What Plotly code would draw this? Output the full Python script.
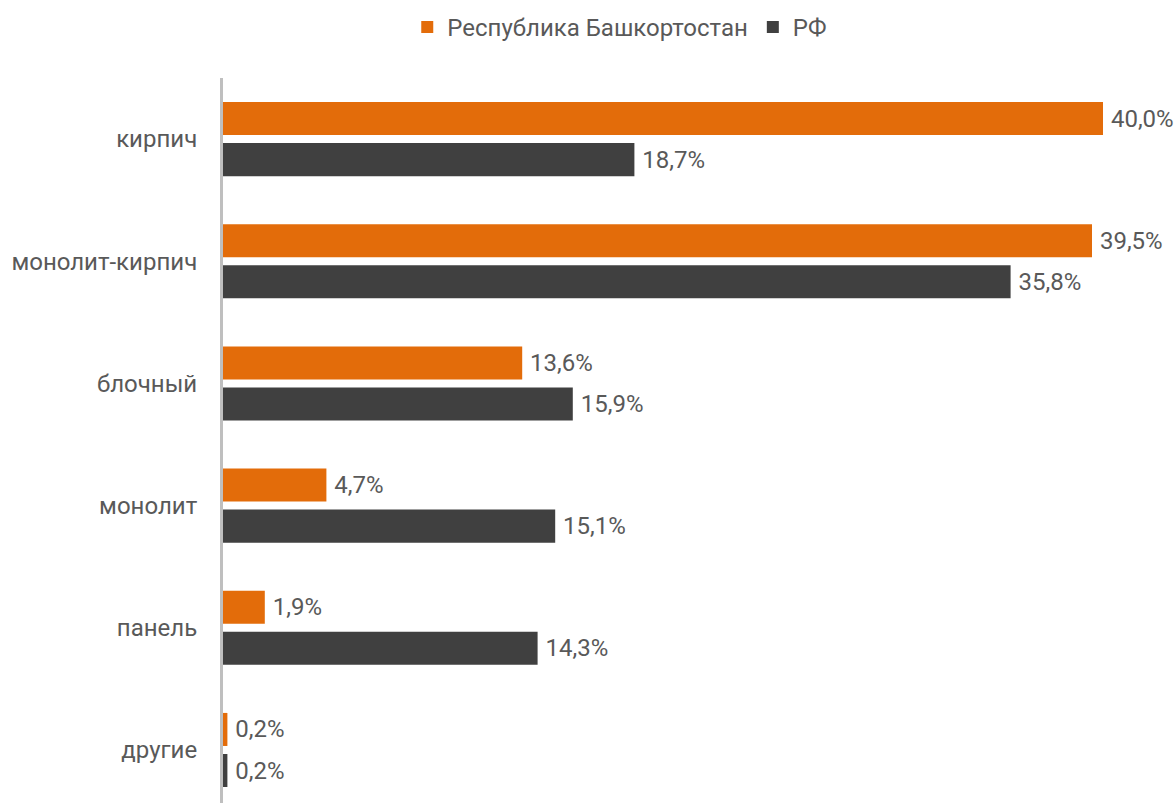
import plotly.graph_objects as go

categories = ["кирпич", "монолит-кирпич", "блочный", "монолит", "панель", "другие"]
bashkortostan = [40.0, 39.5, 13.6, 4.7, 1.9, 0.2]
rf = [18.7, 35.8, 15.9, 15.1, 14.3, 0.2]
series_names = ["Республика Башкортостан", "РФ"]


def fmt(v):
    return "\u2009" + f"{v:.1f}".replace(".", ",") + "%"


FS = 24
fig = go.Figure()
for name, vals, color in [(series_names[0], bashkortostan, "#E36C0A"),
                          (series_names[1], rf, "#404040")]:
    fig.add_trace(go.Bar(
        y=categories, x=vals, name=name, orientation="h",
        marker=dict(color=color, line=dict(width=0)),
        text=[fmt(v) for v in vals], textposition="outside",
        textfont=dict(family="Roboto", size=FS, color="#595959"),
        cliponaxis=False,
    ))

fig.update_layout(
    width=1176, height=803,
    margin=dict(l=223, r=0, t=78, b=0),
    plot_bgcolor="white", paper_bgcolor="white",
    barmode="group", bargap=0.328, bargroupgap=0.195,
    font=dict(family="Roboto", size=FS, color="#595959"),
    legend=dict(orientation="h", xref="container", yref="container",
                x=0.527, y=0.966, xanchor="center", yanchor="middle",
                font=dict(family="Roboto", size=FS, color="#595959"),
                itemwidth=30, traceorder="normal"),
    showlegend=True,
)
fig.update_xaxes(range=[0, 953 / 22.0], visible=False, showgrid=False, zeroline=False)
fig.update_yaxes(range=[5.434, -0.5], showline=True, linecolor="#BFBFBF", linewidth=3,
                 showgrid=False, zeroline=False, ticks="", ticklabelstandoff=18,
                 tickfont=dict(family="Roboto", size=FS, color="#595959"))

fig.write_html("out.html", config={"displayModeBar": False},
               post_script="document.body.style.margin='0';")
